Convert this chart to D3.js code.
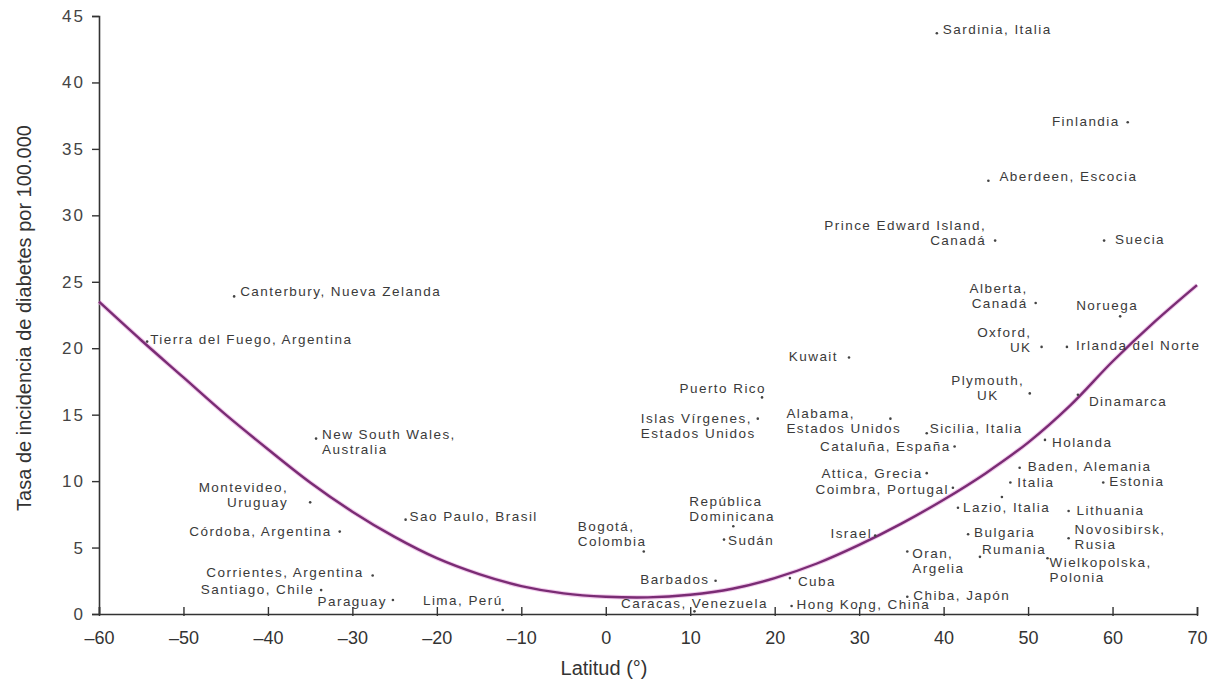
<!DOCTYPE html>
<html><head><meta charset="utf-8">
<script src="https://cdn.jsdelivr.net/npm/d3@7"></script>
<style>
body{margin:0;background:#fff;}
svg{display:block;}
.lbl{font-family:"Liberation Sans",Arial,sans-serif;font-size:13.5px;letter-spacing:1.45px;fill:#3a3a3a;}
</style></head>
<body>
<svg id="c" width="1226" height="686"></svg>
<script>
// ---- data ----
const names = ["Sardinia, Italia","Finlandia","Aberdeen, Escocia","Prince Edward Island,\nCanadá","Suecia",
 "Alberta,\nCanadá","Noruega","Oxford,\nUK","Irlanda del Norte","Kuwait","Plymouth,\nUK","Dinamarca",
 "Puerto Rico","Islas Vírgenes,\nEstados Unidos","Alabama,\nEstados Unidos","Sicilia, Italia","Cataluña, España",
 "Holanda","New South Wales,\nAustralia","Canterbury, Nueva Zelanda","Tierra del Fuego, Argentina",
 "Montevideo,\nUruguay","Córdoba, Argentina","Sao Paulo, Brasil","Corrientes, Argentina","Santiago, Chile",
 "Paraguay","Lima, Perú","Bogotá,\nColombia","Barbados","Caracas, Venezuela","República\nDominicana","Sudán",
 "Cuba","Hong Kong, China","Israel","Attica, Grecia","Coimbra, Portugal","Lazio, Italia","",
 "Oran,\nArgelia","Bulgaria","Rumania","Chiba, Japón","Baden, Alemania","Italia","Estonia","Lithuania",
 "Novosibirsk,\nRusia","Wielkopolska,\nPolonia"];
const latitude = [39.2,61.8,45.3,46.1,59.0, 50.9,60.9,51.6,54.6,28.8,50.2,55.9, 18.5,18.0,33.7,38.0,41.3,
 52.0,-34.3,-44.0,-54.3, -35.0,-31.5,-23.7,-27.6,-33.7, -25.2,-12.2,4.5,13.0,10.5,15.1,14.0,
 21.8,22.0,31.9,38.0,41.1,41.7,46.9, 35.7,42.9,44.3,35.7,49.0,47.9,58.9,54.8, 54.8,52.3];
const incidence = [43.7,37.0,32.6,28.1,28.1, 23.4,22.4,20.1,20.1,19.3,16.6,16.5, 16.3,14.7,14.7,13.6,12.6,
 13.1,13.2,23.9,20.5, 8.4,6.2,7.1,2.9,1.8, 1.05,0.3,4.7,2.5,0.2,6.6,5.6,
 2.7,0.6,5.9,10.6,9.5,8.0,8.8, 4.7,6.0,4.3,1.3,11.0,9.9,9.9,7.75, 5.7,4.2];
const curveLat  = [-60,-55,-50,-45,-40,-35,-30,-25,-20,-15,-10,-5,0,5,10,15,20,25,30,35,40,45,50,55,60,65,70];
const curveRate = [23.5,20.6,17.8,15.0,12.4,9.9,7.7,5.8,4.2,3.0,2.1,1.55,1.3,1.25,1.45,1.9,2.7,3.8,5.2,6.8,8.6,10.6,12.9,15.7,19.0,22.0,24.75];
const xTicks = [-60,-50,-40,-30,-20,-10,0,10,20,30,40,50,60,70];
const yTicks = [0,5,10,15,20,25,30,35,40,45];
const xTitle = "Latitud (°)";
const yTitle = "Tasa de incidencia de diabetes por 100.000";

// ---- label layout (anchor, dx, dy of first baseline) ----
const labelLayout = [
 ["start",6,1],["end",-8,4],["start",11,0],["end",-9,-11],["start",11,3],
 ["end",-8,-10],["middle",-13,-6],["end",-10,-10],["start",9,3],["end",-11,3],["middle",-42,-8],["start",11,11],
 ["end",4,-4],["start",-117,4],["start",-104,-1],["start",3,0],["end",-4,4],
 ["start",7,7],["start",6,0],["start",6,0],["start",3,2],
 ["end",-22,-10],["end",-8,4],["start",4,1],["end",-9,2],["end",-7,4],
 ["end",-6,6],["end",0,-5],["start",-66,-21],["end",-6,3],["middle",0,-3],["start",-44,-20],["start",4,5],
 ["start",8,8],["start",5,3],["end",-3,2],["end",-4,5],["end",-4,6],["start",5,4],["start",0,0],
 ["start",5,6],["start",6,3],["start",2,-3],["start",6,3],["start",8,3],["start",7,5],["start",6,4],["start",8,4],
 ["start",6,-4],["start",2,9]
];

const svg = d3.select("#c");
const x = d3.scaleLinear().domain([-60,70]).range([99,1197]);
const y = d3.scaleLinear().domain([0,45]).range([614,16]);

// axes
const gx = svg.append("g").attr("transform",`translate(0,${y(0)})`)
  .call(d3.axisBottom(x).tickValues(xTicks).tickSize(-7).tickPadding(12).tickFormat(d=>d<0?"\u2013"+(-d):d));
gx.select(".domain").attr("stroke","#333").attr("stroke-width",1.6);
gx.selectAll(".tick line").attr("stroke","#333").attr("stroke-width",1.4).attr("y2",-7).attr("y1",2);
gx.selectAll("text").attr("font-family","'Liberation Sans Narrow','Arial Narrow','Liberation Sans',sans-serif")
  .attr("font-size",18).attr("fill","#333").attr("dy","1.0em");

const gy = svg.append("g").attr("transform",`translate(${x(-60)},0)`)
  .call(d3.axisLeft(y).tickValues(yTicks).tickSize(7).tickPadding(7));
gy.select(".domain").attr("stroke","#333").attr("stroke-width",1.6);
gy.selectAll(".tick line").attr("stroke","#333").attr("stroke-width",1.4);
gy.selectAll("text").attr("font-family","'Liberation Sans',Arial,sans-serif")
  .attr("font-size",17).attr("letter-spacing","2px").attr("fill","#444");

svg.append("text").attr("x",604).attr("y",675).attr("text-anchor","middle")
  .attr("font-family","'Liberation Sans Narrow','Arial Narrow','Liberation Sans',sans-serif")
  .attr("font-size",20).attr("fill","#333").text(xTitle);
svg.append("text").attr("transform","translate(31,318) rotate(-90)").attr("text-anchor","middle")
  .attr("font-family","'Liberation Sans Narrow','Arial Narrow','Liberation Sans',sans-serif")
  .attr("font-size",20).attr("fill","#333").text(yTitle);

// curve
const curvePts = curveLat.map((d,i)=>[d,curveRate[i]]);
const line = d3.line().x(d=>x(d[0])).y(d=>y(d[1])).curve(d3.curveCatmullRom);
svg.append("path").attr("d",line(curvePts)).attr("fill","none").attr("stroke","#e7a6df").attr("stroke-width",4.5).attr("opacity",0.6);
svg.append("path").attr("d",line(curvePts)).attr("fill","none").attr("stroke","#7a2c74").attr("stroke-width",2.4);

// points and labels
const pts = names.map((n,i)=>({name:n,lat:latitude[i],inc:incidence[i],lay:labelLayout[i]}));
svg.append("g").selectAll("circle").data(pts).join("circle")
  .attr("cx",d=>x(d.lat)).attr("cy",d=>y(d.inc)).attr("r",1.3).attr("fill","#444");

const lg = svg.append("g");
pts.forEach(d=>{
  if(!d.name) return;
  const [anchor,dx,dy] = d.lay;
  const t = lg.append("text").attr("class","lbl").attr("text-anchor",anchor)
    .attr("x",x(d.lat)+dx).attr("y",y(d.inc)+dy);
  d.name.split("\n").forEach((s,j)=>{
    t.append("tspan").attr("x",x(d.lat)+dx).attr("dy",j===0?0:15).text(s);
  });
});
</script>
</body></html>
